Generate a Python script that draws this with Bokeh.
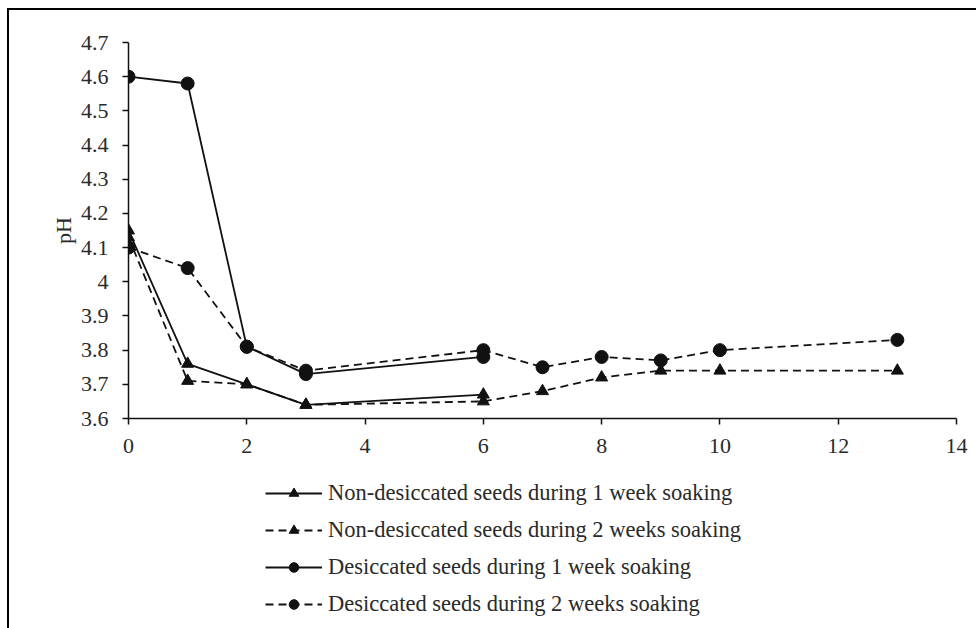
from bokeh.plotting import figure
from bokeh.layouts import column
from bokeh.models import (ColumnDataSource, Legend, LegendItem, FixedTicker,
                          CustomJSTickFormatter, Range1d)
from bokeh.embed import file_html
from bokeh.resources import INLINE

# ---- data ----
days_short = [0, 1, 2, 3, 6]
days_long = [0, 1, 2, 3, 6, 7, 8, 9, 10, 13]

nondes_1wk = [4.15, 3.76, 3.70, 3.64, 3.67]
nondes_2wk = [4.13, 3.71, 3.70, 3.64, 3.65, 3.68, 3.72, 3.74, 3.74, 3.74]
des_1wk = [4.60, 4.58, 3.81, 3.73, 3.78]
des_2wk = [4.10, 4.04, 3.81, 3.74, 3.80, 3.75, 3.78, 3.77, 3.80, 3.83]

labels = [
    "Non-desiccated seeds during 1 week soaking",
    "Non-desiccated seeds during 2 weeks soaking",
    "Desiccated seeds during 1 week soaking",
    "Desiccated seeds during 2 weeks soaking",
]

x_ticks = [0, 2, 4, 6, 8, 10, 12, 14]
y_ticks = [3.6, 3.7, 3.8, 3.9, 4.0, 4.1, 4.2, 4.3, 4.4, 4.5, 4.6, 4.7]

FONT = "Liberation Serif"
INK = "#111111"
TXT = "#2a2a2a"
LW = 1.8
DASH = "8 5"

# ---------------- main chart ----------------
p = figure(width=967, height=450, output_backend="svg", toolbar_location=None,
           x_range=Range1d(0, 14), y_range=Range1d(3.6, 4.7),
           min_border_left=119, min_border_right=20,
           min_border_top=32, min_border_bottom=42)
p.outline_line_color = None
p.xgrid.visible = False
p.ygrid.visible = False

for ax in (p.xaxis[0], p.yaxis[0]):
    ax.axis_line_color = INK
    ax.axis_line_width = 1.5
    ax.major_tick_line_color = INK
    ax.major_tick_line_width = 1.5
    ax.major_tick_in = 0
    ax.major_tick_out = 6
    ax.minor_tick_line_color = None
    ax.major_label_text_font = FONT
    ax.major_label_text_font_size = "22px"
    ax.major_label_text_color = TXT

p.xaxis.ticker = FixedTicker(ticks=x_ticks)
p.yaxis.ticker = FixedTicker(ticks=y_ticks)
p.yaxis.formatter = CustomJSTickFormatter(code="return String(Number(tick.toFixed(1)));")
p.xaxis.major_label_standoff = 14
p.yaxis.major_label_standoff = 14
p.yaxis.axis_label = "pH"
p.yaxis.axis_label_text_font = FONT
p.yaxis.axis_label_text_font_style = "normal"
p.yaxis.axis_label_text_font_size = "22px"
p.yaxis.axis_label_text_color = TXT
p.yaxis.axis_label_standoff = 2

s1 = ColumnDataSource(dict(x=days_short, y=nondes_1wk))
s2 = ColumnDataSource(dict(x=days_long, y=nondes_2wk))
s3 = ColumnDataSource(dict(x=days_short, y=des_1wk))
s4 = ColumnDataSource(dict(x=days_long, y=des_2wk))
sources = (s1, s2, s3, s4)

styles = [
    dict(dash="solid", marker="triangle", size=12),
    dict(dash=DASH, marker="triangle", size=12),
    dict(dash="solid", marker="circle", size=13),
    dict(dash=DASH, marker="circle", size=13),
]
for src, st in zip(sources, styles):
    p.line("x", "y", source=src, line_color=INK, line_width=LW, line_dash=st["dash"])
    p.scatter("x", "y", source=src, marker=st["marker"], size=st["size"], color=INK)

# ---------------- legend panel (series drawn out of view, only the legend shows) ----------------
q = figure(width=967, height=168, output_backend="svg", toolbar_location=None,
           x_range=Range1d(100, 101), y_range=Range1d(100, 101),
           min_border=0)
q.outline_line_color = None
q.axis.visible = False
q.xgrid.visible = False
q.ygrid.visible = False

items = []
for lab, src, st in zip(labels, sources, styles):
    lr = q.line("x", "y", source=src, line_color=INK, line_width=LW, line_dash=st["dash"])
    mr = q.scatter("x", "y", source=src, marker=st["marker"], size=st["size"] - 3, color=INK)
    items.append(LegendItem(label=lab, renderers=[lr, mr]))

legend = Legend(items=items, location=(137, 11), orientation="vertical",
                border_line_color=None, background_fill_alpha=0,
                label_text_font=FONT, label_text_font_size="22.5px",
                label_text_color=TXT,
                glyph_width=57, glyph_height=24, label_height=24,
                label_standoff=6, spacing=11, padding=0, margin=0)
q.add_layout(legend, "center")

layout = column(p, q, spacing=0)
layout.margin = (8, 0, 0, 7)
layout.styles = {"border-top": "2px solid #000", "border-left": "2px solid #000"}

open("out.html", "w").write(file_html(layout, INLINE))
